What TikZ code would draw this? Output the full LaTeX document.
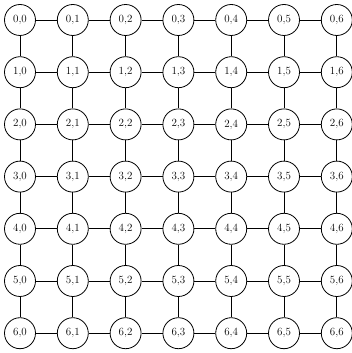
\documentclass[tikz,border=0pt]{standalone}
\begin{document}
\begin{tikzpicture}[x=1pt,y=1pt,
  gridnode/.style={draw,circle,minimum size=31pt,inner sep=0pt,line width=0.8pt,font=\fontsize{11}{13}\selectfont},
  link/.style={line width=0.8pt}]
\useasboundingbox (0,0) rectangle (351,353);
\foreach \i in {0,...,6}{
  \foreach \j in {0,...,6}{
    \node[gridnode] (n\i\j) at ({20+52.8*\j},{353-20-52.2*\i}) {\i,\j};
  }
}
\foreach \i in {0,...,6}{
  \foreach \j [count=\k] in {0,...,5}{
    \draw[link] (n\i\j) -- (n\i\k);
    \draw[link] (n\j\i) -- (n\k\i);
  }
}
\end{tikzpicture}
\end{document}
